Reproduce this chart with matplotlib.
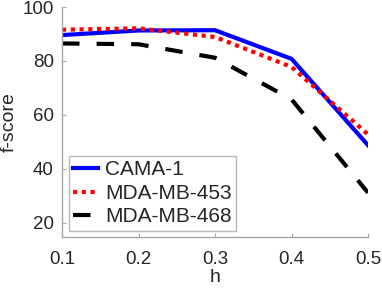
import matplotlib
matplotlib.use('Agg')
import matplotlib.pyplot as plt

# data
h = [0.1, 0.2, 0.3, 0.4, 0.5]
cama1 = [89.6, 91.3, 91.4, 80.8, 48.8]
mda453 = [91.6, 92.1, 88.9, 77.8, 52.8]
mda468 = [86.5, 86.2, 81.2, 65.8, 31.2]
yticks = [20, 40, 60, 80, 100]

plt.rcParams['font.family'] = ['Liberation Sans', 'DejaVu Sans']

fig = plt.figure(figsize=(3.82, 2.88), dpi=100)
ax = fig.add_axes([62 / 382, 1 - 237 / 288, 306 / 382, 230 / 288])

ax.plot(h, cama1, color='#0000ff', linewidth=3.0, label='CAMA-1')
ax.plot(h, mda453, color='#ff0000', linewidth=3.0, linestyle=(0, (1, 1.1)), label='MDA-MB-453')
ax.plot(h, mda468, color='black', linewidth=3.0, linestyle=(0, (4.2, 4.1)), label='MDA-MB-468')

ax.set_xlim(0.1, 0.5)
ax.set_ylim(14.8, 100)
ax.set_xticks(h)
ax.set_xticklabels(['0.1', '0.2', '0.3', '0.4', '0.5'])
ax.set_yticks(yticks)

for s in ['top', 'right']:
    ax.spines[s].set_visible(False)
for s in ['left', 'bottom']:
    ax.spines[s].set_color('#a8a8a8')
    ax.spines[s].set_linewidth(1.0)
ax.tick_params(direction='in', length=3, color='#a8a8a8', labelsize=13.5, labelcolor='#262626')
ax.tick_params(axis='x', pad=10)
ax.tick_params(axis='y', pad=6)

ax.set_xlabel('h', fontsize=14, color='#262626', labelpad=1)
ax.set_ylabel('f-score', fontsize=14, color='#262626', labelpad=3)

leg = ax.legend(loc='lower left', bbox_to_anchor=(0.022, 0.028), fontsize=15, frameon=True,
                fancybox=False, handlelength=1.2, handletextpad=0.35, borderpad=0.2,
                labelspacing=0.22, borderaxespad=0)
leg.get_frame().set_edgecolor('#a8a8a8')
leg.get_frame().set_linewidth(1.0)
for t in leg.get_texts():
    t.set_color('#262626')

fig.savefig('out.png', dpi=100)
